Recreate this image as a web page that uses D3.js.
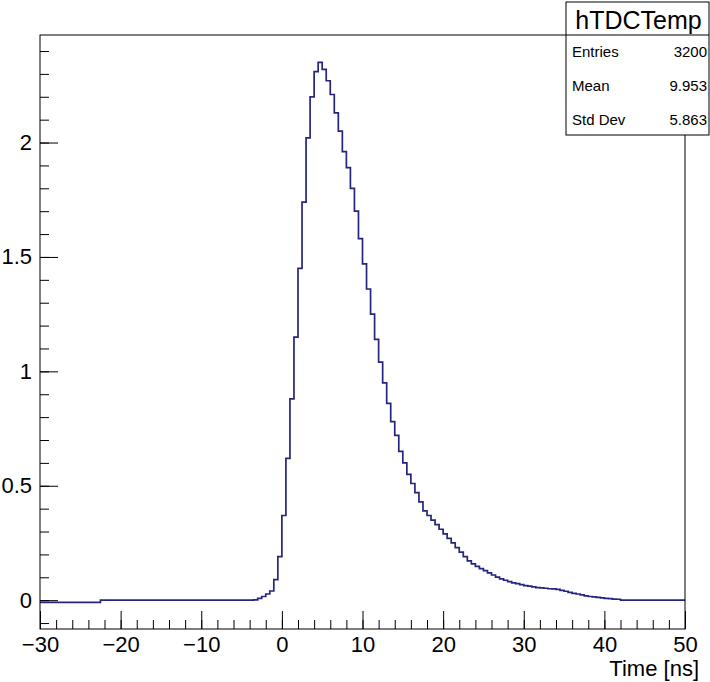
<!DOCTYPE html>
<html>
<head>
<meta charset="utf-8">
<script src="https://cdn.jsdelivr.net/npm/d3@7"></script>
<style>
	body { margin: 0; background: #fff; }
	svg { display: block; font-family: "Liberation Sans", Arial, sans-serif; }
</style>
</head>
<body>
<svg id="svg-port" width="710" height="682"></svg>
<script>
// histogram hTDCTemp, 160 bins from -30 to 50 ns
var histName = "hTDCTemp";
var xTitle = "Time [ns]";
var xRange = [-30, 50];
var yRange = [-0.126, 2.47];
var statLabels = ["Entries", "Mean", "Std Dev"];
var statValues = ["3200", "9.953", "5.863"];
var xMajorTicks = [-30, -20, -10, 0, 10, 20, 30, 40, 50];
var yMajorTicks = [0, 0.5, 1, 1.5, 2];

var binContents = [
	// -30 .. -22.5
	-0.01, -0.01, -0.01, -0.01, -0.01, -0.01, -0.01, -0.01, -0.01, -0.01, -0.01, -0.01, -0.01, -0.01, -0.01,
	// -22.5 .. -3.5
	0, 0, 0, 0, 0, 0, 0, 0, 0, 0, 0, 0, 0, 0, 0, 0, 0, 0, 0,
	0, 0, 0, 0, 0, 0, 0, 0, 0, 0, 0, 0, 0, 0, 0, 0, 0, 0, 0,
	// -3.5 .. 42
	0.001, 0.008, 0.016, 0.027, 0.04, 0.09, 0.19, 0.37, 0.62, 0.88,
	1.15, 1.45, 1.74, 2.02, 2.20, 2.31, 2.35, 2.32, 2.27, 2.21,
	2.13, 2.05, 1.96, 1.89, 1.80, 1.70, 1.58, 1.47, 1.36, 1.25,
	1.14, 1.04, 0.95, 0.86, 0.78, 0.72, 0.65, 0.60, 0.55, 0.51,
	0.47, 0.43, 0.39, 0.37, 0.35, 0.33, 0.31, 0.29, 0.27, 0.25,
	0.23, 0.21, 0.19, 0.172, 0.159, 0.148, 0.138, 0.129, 0.119, 0.110,
	0.101, 0.093, 0.087, 0.081, 0.076, 0.072, 0.068, 0.064, 0.061, 0.058,
	0.055, 0.054, 0.052, 0.050, 0.049, 0.047, 0.043, 0.039, 0.034, 0.030,
	0.027, 0.023, 0.019, 0.016, 0.014, 0.012, 0.010, 0.008, 0.007, 0.005,
	0.004,
	// 42 .. 50
	0, 0, 0, 0, 0, 0, 0, 0, 0, 0, 0, 0, 0, 0, 0, 0
];

function DrawHistogram() {
	var svg = d3.select("#svg-port");
	var frame = {left: 40, right: 685, top: 35, bottom: 629};
	var majorLen = 18, minorLen = 9;
	var lineColor = "#25257d";

	var x = d3.scaleLinear().domain(xRange).range([frame.left, frame.right]);
	var y = d3.scaleLinear().domain(yRange).range([frame.bottom, frame.top]);

	svg.append("defs").append("clipPath").attr("id", "frame-clip")
		.append("rect")
		.attr("x", frame.left).attr("y", frame.top)
		.attr("width", frame.right - frame.left)
		.attr("height", frame.bottom - frame.top);

	// bin low edges -> step line
	var binWidth = (xRange[1] - xRange[0]) / binContents.length;
	var pts = binContents.map(function (v, i) {
		return [xRange[0] + i * binWidth, v];
	});
	pts.push([xRange[1], binContents[binContents.length - 1]]);

	var line = d3.line()
		.x(function (d) { return x(d[0]); })
		.y(function (d) { return y(d[1]); })
		.curve(d3.curveStepAfter);

	svg.append("path")
		.attr("d", line(pts))
		.attr("fill", "none")
		.attr("stroke", lineColor)
		.attr("stroke-width", 1.7)
		.attr("clip-path", "url(#frame-clip)");

	// minor ticks
	var xMinor = d3.range(xRange[0], xRange[1] + 0.001, 2);
	var yMinor = d3.range(-0.1, yRange[1], 0.1);

	var xAxisMinor = d3.axisBottom(x).tickValues(xMinor).tickSize(-minorLen).tickFormat("");
	var xAxis = d3.axisBottom(x).tickValues(xMajorTicks).tickSize(-majorLen).tickPadding(7)
		.tickFormat(function (d) { return d < 0 ? "\u2212" + Math.abs(d) : d; });
	var yAxisMinor = d3.axisLeft(y).tickValues(yMinor).tickSize(-minorLen).tickFormat("");
	var yAxis = d3.axisLeft(y).tickValues(yMajorTicks).tickSize(-majorLen).tickPadding(8)
		.tickFormat(function (d) { return d; });

	[xAxisMinor, xAxis].forEach(function (ax) {
		svg.append("g").attr("class", "x-axis")
			.attr("transform", "translate(0," + frame.bottom + ")")
			.call(ax);
	});
	[yAxisMinor, yAxis].forEach(function (ax) {
		svg.append("g").attr("class", "y-axis")
			.attr("transform", "translate(" + frame.left + ",0)")
			.call(ax);
	});
	svg.selectAll(".x-axis .domain, .y-axis .domain").remove();
	svg.selectAll(".x-axis line, .y-axis line").attr("stroke", "#000").attr("stroke-width", 1);
	svg.selectAll(".x-axis text, .y-axis text")
		.attr("fill", "#000")
		.style("font-family", "'Liberation Sans', Arial, sans-serif")
		.style("font-size", "22px");
	// ticks outside the frame get dropped
	svg.selectAll(".y-axis .tick").filter(function (d) { return y(d) < frame.top; }).remove();

	// frame
	svg.append("rect")
		.attr("x", frame.left).attr("y", frame.top)
		.attr("width", frame.right - frame.left)
		.attr("height", frame.bottom - frame.top)
		.attr("fill", "none")
		.attr("stroke", "#000")
		.attr("stroke-width", 1);

	// axis title
	svg.append("text")
		.attr("x", 699)
		.attr("y", 676)
		.attr("text-anchor", "end")
		.style("font-size", "22px")
		.text(xTitle);

	// stats box
	var box = {left: 566, right: 709, top: 2, bottom: 135, sep: 35};
	var stats = svg.append("g").attr("id", "stats");
	stats.append("rect")
		.attr("x", box.left).attr("y", box.top)
		.attr("width", box.right - box.left)
		.attr("height", box.bottom - box.top)
		.attr("fill", "#fff")
		.attr("stroke", "#000")
		.attr("stroke-width", 1);
	stats.append("line")
		.attr("x1", box.left).attr("x2", box.right)
		.attr("y1", box.sep).attr("y2", box.sep)
		.attr("stroke", "#000");
	stats.append("text")
		.attr("x", (box.left + box.right) / 2 + 1)
		.attr("y", 29)
		.attr("text-anchor", "middle")
		.style("font-size", "25px")
		.text(histName);
	statLabels.forEach(function (label, i) {
		var by = 57 + i * 34;
		stats.append("text")
			.attr("x", box.left + 6).attr("y", by)
			.style("font-size", "15px")
			.text(label);
		stats.append("text")
			.attr("x", box.right - 2).attr("y", by)
			.attr("text-anchor", "end")
			.style("font-size", "15px")
			.text(statValues[i]);
	});
}

document.addEventListener("DOMContentLoaded", DrawHistogram);
</script>
</body>
</html>
